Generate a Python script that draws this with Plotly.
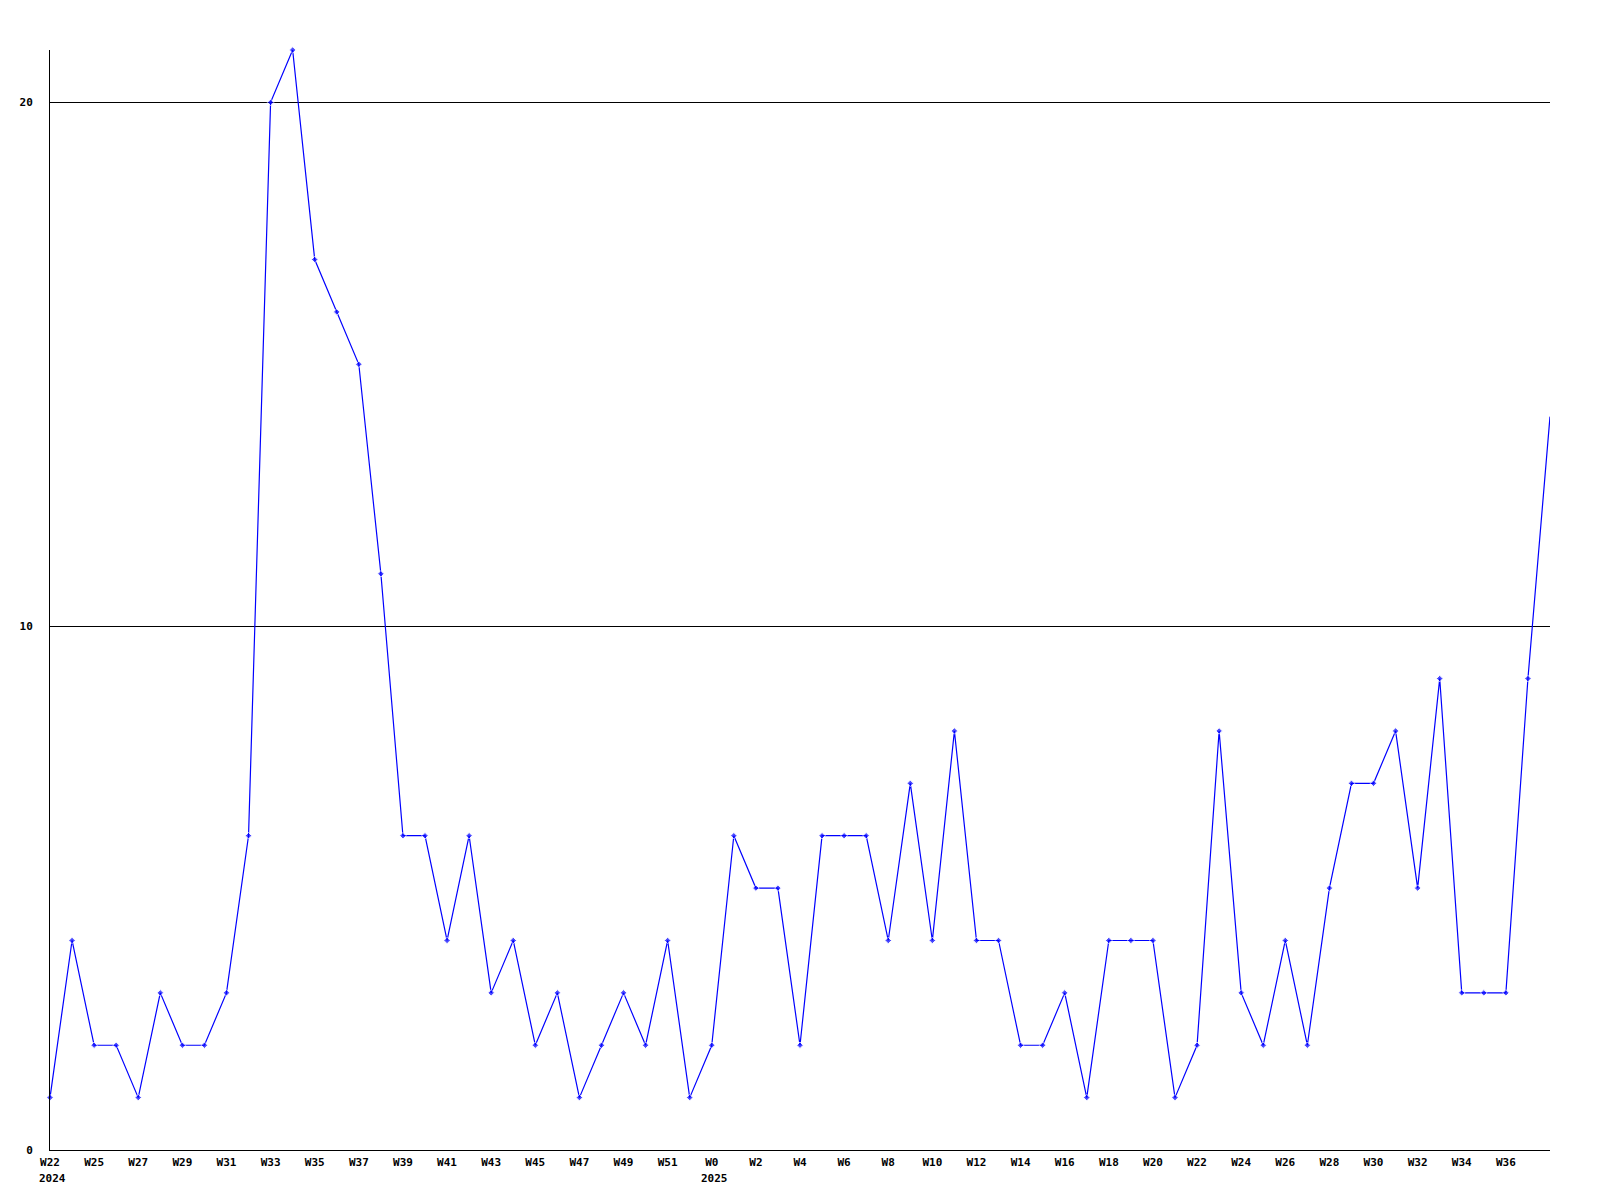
import plotly.graph_objects as go

week_labels = (["W22"] + ["W%d" % w for w in range(24, 53)] + ["W%d" % w for w in range(0, 39)])
values = [1, 4, 2, 2, 1, 3, 2, 2, 3, 6,
          20, 21, 17, 16, 15, 11, 6, 6, 4, 6,
          3, 4, 2, 3, 1, 2, 3, 2, 4, 1,
          2, 6, 5, 5, 2, 6, 6, 6, 4, 7,
          4, 8, 4, 4, 2, 2, 3, 1, 4, 4,
          4, 1, 2, 8, 3, 2, 4, 2, 5, 7,
          7, 8, 5, 9, 3, 3, 3, 9, 14]
year_labels = {0: "2024", 30: "2025"}

x_idx = list(range(len(values)))
tick_idx = x_idx[:-1:2]
tick_text = [week_labels[i] for i in tick_idx]
marker_sizes = [5] * (len(values) - 1) + [0]

font = dict(family="DejaVu Sans Mono", size=11, color="black")

fig = go.Figure()
fig.add_trace(go.Scatter(
    x=x_idx, y=values, mode="lines+markers",
    line=dict(color="#0000ff", width=1.2),
    marker=dict(symbol="diamond", size=marker_sizes, color="#0000ff"),
    cliponaxis=False, hoverinfo="skip", showlegend=False,
))

for i, yl in year_labels.items():
    fig.add_annotation(x=i, y=0, xref="x", yref="paper", text="<b>%s</b>" % yl,
                       showarrow=False, xanchor="left", yanchor="top",
                       xshift=-13, yshift=-20, font=font)

fig.update_layout(
    width=1600, height=1200,
    margin=dict(l=42, r=58, t=42, b=58),
    paper_bgcolor="white", plot_bgcolor="white",
    font=font,
    xaxis=dict(range=[0, len(values) - 1], tickmode="array", tickvals=tick_idx,
               ticktext=["<b>%s</b>" % t for t in tick_text], automargin=False,
               showgrid=False, zeroline=False, showline=True, linecolor="black",
               linewidth=1, ticks="", tickfont=font, ticklabelstandoff=2),
    yaxis=dict(range=[0, 21], tickmode="array", tickvals=[0, 10, 20],
               ticktext=["<b>0</b>", "<b>10</b>", "<b>20</b>"], automargin=False,
               showgrid=True, gridcolor="black", gridwidth=1, zeroline=False,
               showline=True, linecolor="black", linewidth=1, ticks="",
               tickfont=font, ticklabelstandoff=14),
)

fig.write_html("out.html")
